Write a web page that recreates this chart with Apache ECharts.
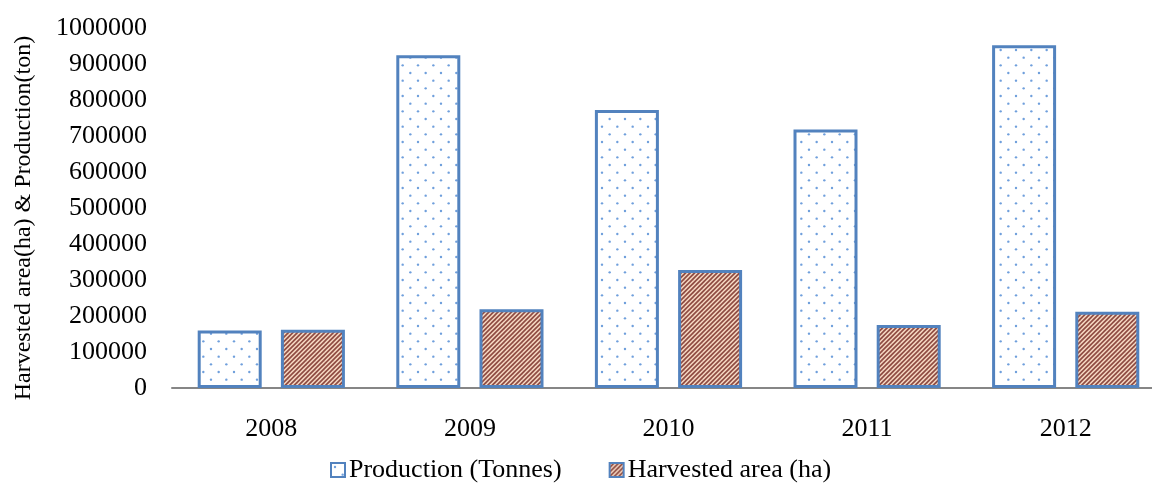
<!DOCTYPE html>
<html>
<head>
<meta charset="utf-8">
<script src="https://cdn.jsdelivr.net/npm/echarts@6/dist/echarts.min.js"></script>
<style>
  html, body { margin: 0; padding: 0; background: #fff; }
  #chart { width: 1152px; height: 485px; }
</style>
</head>
<body>
<div id="chart"></div>
<script>
// Yearly figures
const years = ['2008', '2009', '2010', '2011', '2012'];
const production = [160000, 924000, 772000, 718000, 952000];
const harvestedArea = [162000, 219000, 328000, 175000, 212000];
const seriesNames = ['Production (Tonnes)', 'Harvested area (ha)'];
const yAxisTitle = 'Harvested area(ha) & Production(ton)';
const yMin = 0, yMax = 1000000, yStep = 100000;

// Dotted fill: staggered light-blue dots on white
function dotPattern() {
  const s = 15.33, c = document.createElement('canvas');
  c.width = 46; c.height = 46;
  const g = c.getContext('2d');
  g.fillStyle = '#ffffff';
  g.fillRect(0, 0, 46, 46);
  g.fillStyle = '#6f9fdc';
  for (let i = 0; i < 3; i++) {
    for (let j = 0; j < 3; j++) {
      const pts = [[i * s + 4, j * s + 4], [i * s + 4 + s / 2, j * s + 4 + s / 2]];
      pts.forEach(p => { g.beginPath(); g.arc(p[0], p[1], 1.2, 0, Math.PI * 2); g.fill(); });
    }
  }
  return c;
}

// Hatched fill: brown upward diagonals on peach
function hatchPattern() {
  const n = 9, c = document.createElement('canvas');
  c.width = n; c.height = n;
  const g = c.getContext('2d');
  g.fillStyle = '#f9dcc6';
  g.fillRect(0, 0, n, n);
  g.strokeStyle = '#8f4c43';
  g.lineWidth = 1.7;
  for (let k = -2; k <= 4; k++) {
    const off = k * n / 2;
    g.beginPath();
    g.moveTo(off - n, n + n);
    g.lineTo(off + n + n, 0 - n);
    g.stroke();
  }
  return c;
}

const chart = echarts.init(document.getElementById('chart'), null, { renderer: 'canvas' });
const serif = '"Liberation Serif", "Times New Roman", serif';
const borderBlue = '#5282be';

chart.setOption({
  animation: false,
  textStyle: { fontFamily: serif },
  grid: { left: 172, right: -13, top: 28, bottom: 97, containLabel: false, outerBoundsMode: 'none' },
  legend: {
    left: 325,
    top: 452,
    itemWidth: 14,
    itemHeight: 14,
    itemGap: 47,
    icon: 'rect',
    textStyle: { fontFamily: serif, fontSize: 26, color: '#000', padding: [0, 0, 0, -1] },
    itemStyle: { borderWidth: 2 },
    data: seriesNames
  },
  xAxis: {
    type: 'category',
    data: years,
    axisLine: { lineStyle: { color: '#868686', width: 2 } },
    axisTick: { show: false },
    axisLabel: { fontFamily: serif, fontSize: 26, color: '#000', margin: 28 }
  },
  yAxis: {
    type: 'value',
    min: yMin,
    max: yMax,
    interval: yStep,
    name: yAxisTitle,
    nameLocation: 'middle',
    nameRotate: 90,
    nameGap: 136,
    nameTextStyle: { fontFamily: serif, fontSize: 24, color: '#000', padding: [0, 20, 0, 0] },
    axisLine: { show: false },
    axisTick: { show: false },
    splitLine: { show: false },
    axisLabel: { fontFamily: serif, fontSize: 26, color: '#000', margin: 25, formatter: v => String(v) }
  },
  series: [
    {
      name: seriesNames[0],
      type: 'bar',
      data: production,
      barWidth: 64,
      barGap: '30%',
      itemStyle: {
        color: { image: dotPattern(), repeat: 'repeat' },
        borderColor: borderBlue,
        borderWidth: 3
      }
    },
    {
      name: seriesNames[1],
      type: 'bar',
      data: harvestedArea,
      barWidth: 64,
      barGap: '30%',
      itemStyle: {
        color: { image: hatchPattern(), repeat: 'repeat' },
        borderColor: borderBlue,
        borderWidth: 3
      }
    }
  ]
});
</script>
</body>
</html>
